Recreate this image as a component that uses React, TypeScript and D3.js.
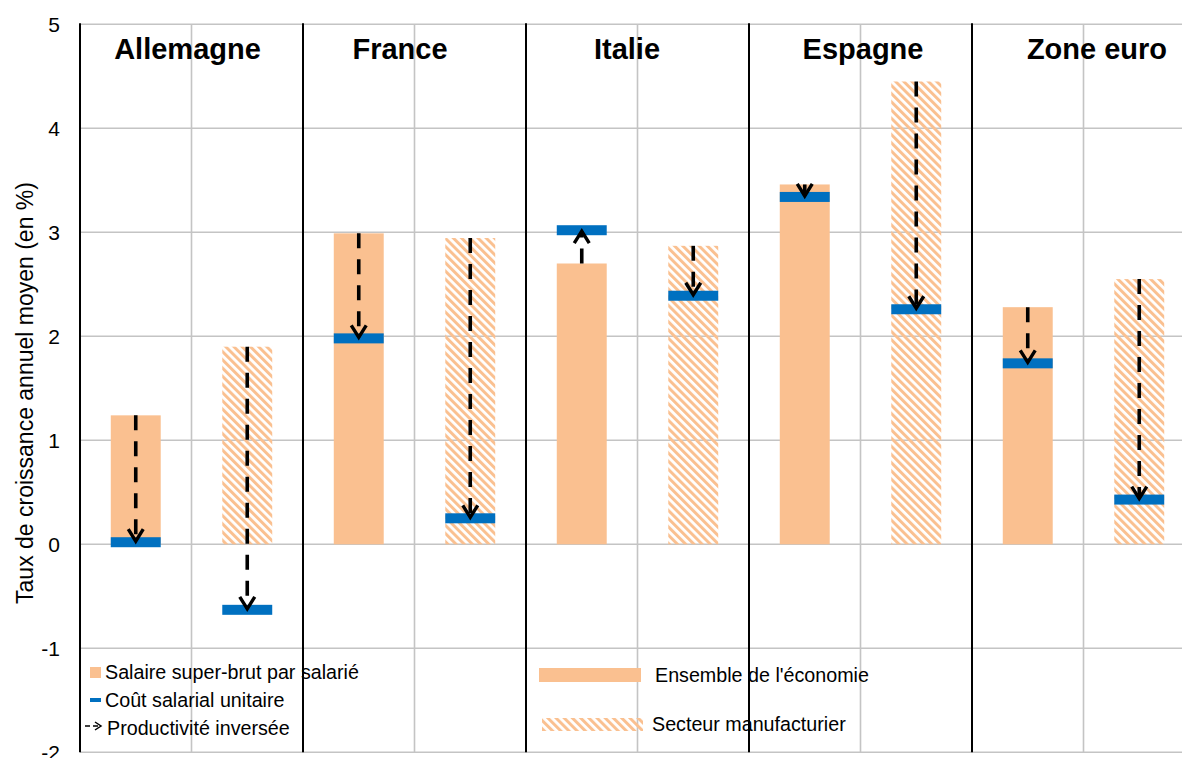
import React from "react";
import * as d3 from "d3";

const countries = ["Allemagne", "France", "Italie", "Espagne", "Zone euro"];
const sectors = ["Ensemble de l'économie", "Secteur manufacturier"];
// Salaire super-brut par salarié (taux de croissance annuel moyen, %)
const salaireEnsemble = [1.24, 2.99, 2.7, 3.46, 2.28];
const salaireManuf = [1.9, 2.945, 2.87, 4.45, 2.55];
// Coût salarial unitaire
const csuEnsemble = [0.02, 1.98, 3.02, 3.34, 1.74];
const csuManuf = [-0.63, 0.25, 2.39, 2.26, 0.43];
const yTicks = [-2, -1, 0, 1, 2, 3, 4, 5];
const titleDx = [-4, -14.5, -10.5, 2.5, 13.5];

const ORANGE = "#FAC090";
const BLUE = "#0070C0";
const GRID = "#C4C4C4";
const FONT = "'Liberation Sans', Arial, sans-serif";

export default function App() {
  const W = 1182;
  const H = 758;
  const left = 80;
  const right = 1195;
  const y = d3.scaleLinear().domain([-2, 5]).range([752.3, 24.3]);
  const x0 = d3.scaleBand<string>().domain(countries).range([left, right]).padding(0);
  const x1 = d3
    .scaleBand<string>()
    .domain(sectors)
    .range([0, x0.bandwidth()])
    .paddingInner(0.552)
    .paddingOuter(0.276);
  const bw = x1.bandwidth();

  const rows = countries.flatMap((c, i) => [
    { c, i, s: sectors[0], sal: salaireEnsemble[i], csu: csuEnsemble[i], hatch: false },
    { c, i, s: sectors[1], sal: salaireManuf[i], csu: csuManuf[i], hatch: true },
  ]);

  const arrow = (cx: number, y1: number, y2: number, key: string) => {
    const dir = y2 > y1 ? 1 : -1;
    const tip = y2 - dir * 1;
    return (
      <g key={key}>
        <line x1={cx} x2={cx} y1={y1} y2={tip} stroke="#000" strokeWidth={3.6} strokeDasharray="15,11" />
        <path
          d={`M${cx - 7.5},${tip - dir * 12} L${cx},${tip} L${cx + 7.5},${tip - dir * 12}`}
          fill="none"
          stroke="#000"
          strokeWidth={3.4}
        />
      </g>
    );
  };

  return (
    <svg
      width={W}
      height={H}
      style={{ position: "absolute", left: 0, top: 0, background: "#fff" }}
      fontFamily={FONT}
    >
      <defs>
        <pattern id="hatch" patternUnits="userSpaceOnUse" width={5.8} height={5.8} patternTransform="rotate(-45)">
          <rect x={0} y={0} width={3} height={5.8} fill={ORANGE} />
        </pattern>
      </defs>

      {/* horizontal gridlines */}
      {yTicks.map((t) => (
        <line key={"h" + t} x1={left} x2={right} y1={y(t)} y2={y(t)} stroke={GRID} strokeWidth={1.6} />
      ))}
      {/* vertical gray gridlines between sectors */}
      {countries.map((c) => (
        <line
          key={"vg" + c}
          x1={(x0(c) as number) + x0.bandwidth() / 2}
          x2={(x0(c) as number) + x0.bandwidth() / 2}
          y1={y(5)}
          y2={y(-2)}
          stroke={GRID}
          strokeWidth={1.6}
        />
      ))}

      {/* y tick labels */}
      {yTicks.map((t) => (
        <text key={"t" + t} x={60} y={y(t)} dy="0.36em" textAnchor="end" fontSize={21} fill="#000">
          {t}
        </text>
      ))}
      <text
        transform={`translate(33,393) rotate(-90)`}
        textAnchor="middle"
        fontSize={23}
        fill="#000"
      >
        Taux de croissance annuel moyen (en %)
      </text>

      {/* bars */}
      {rows.map((r) => {
        const bx = (x0(r.c) as number) + (x1(r.s) as number);
        const top = y(Math.max(0, r.sal));
        const h = Math.abs(y(r.sal) - y(0));
        return (
          <rect key={"b" + r.c + r.s} x={bx} y={top} width={bw} height={h} fill={r.hatch ? "url(#hatch)" : ORANGE} />
        );
      })}
      {/* CSU markers */}
      {rows.map((r) => {
        const bx = (x0(r.c) as number) + (x1(r.s) as number);
        return <rect key={"m" + r.c + r.s} x={bx} y={y(r.csu) - 5} width={bw} height={10} fill={BLUE} />;
      })}

      {/* black axis and separators */}
      {countries.map((c) => (
        <line
          key={"vs" + c}
          x1={x0(c) as number}
          x2={x0(c) as number}
          y1={y(5) - 1}
          y2={y(-2)}
          stroke="#000"
          strokeWidth={2}
        />
      ))}

      {/* arrows */}
      {rows.map((r) => {
        const cx = (x0(r.c) as number) + (x1(r.s) as number) + bw / 2;
        return arrow(cx, y(r.sal), y(r.csu), "a" + r.c + r.s);
      })}

      {/* country titles */}
      {countries.map((c, i) => (
        <text
          key={"ct" + c}
          x={(x0(c) as number) + x0.bandwidth() / 2 + titleDx[i]}
          y={59}
          textAnchor="middle"
          fontSize={29}
          fontWeight="bold"
          fill="#000"
        >
          {c}
        </text>
      ))}

      {/* left legend */}
      <rect x={90} y={667} width={11} height={11} fill={ORANGE} />
      <text x={105} y={679} fontSize={19.7} fill="#000">Salaire super-brut par salarié</text>
      <rect x={90} y={698} width={11} height={4} fill={BLUE} />
      <text x={105} y={707} fontSize={19.7} fill="#000">Coût salarial unitaire</text>
      <line x1={85} x2={100} y1={726} y2={726} stroke="#000" strokeWidth={1.5} strokeDasharray="5,3" />
      <path d="M95,722 L101,726 L95,730" fill="none" stroke="#000" strokeWidth={1.5} />
      <text x={107} y={735} fontSize={19.7} fill="#000">Productivité inversée</text>

      {/* right legend */}
      <rect x={539} y={668} width={102} height={14} fill={ORANGE} />
      <text x={655} y={682} fontSize={19.7} fill="#000">{sectors[0]}</text>
      <rect x={542} y={718} width={101} height={13} fill="url(#hatch)" />
      <text x={652} y={731} fontSize={19.7} fill="#000">{sectors[1]}</text>
    </svg>
  );
}
